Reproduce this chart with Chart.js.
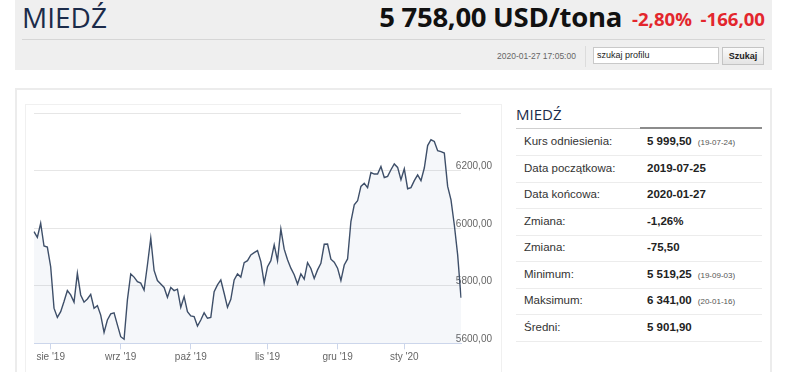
<!DOCTYPE html>
<html>
<head>
<meta charset="utf-8">
<script src="https://cdn.jsdelivr.net/npm/chart.js@4/dist/chart.umd.min.js"></script>
<style>
  html, body { margin: 0; padding: 0; background: #fff; width: 786px; height: 372px; overflow: hidden; }
  body { position: relative; font-family: "Liberation Sans", Arial, sans-serif; }
  .abs { position: absolute; white-space: nowrap; }
  #hdr { left: 15px; top: 0; width: 757px; height: 70px; background: #efefef; }
  #title { left: 22px; top: 0px; font: 28px/34px "Open Sans", sans-serif; color: #1b2b4a; }
  #price { right: 164px; top: 0px; font: bold 27.5px/34px "Open Sans", sans-serif; color: #111; letter-spacing: -0.3px; }
  .red { font: bold 18.6px/34px "Open Sans", sans-serif; color: #e3262d; top: 2px; }
  #sep { left: 22px; top: 39px; width: 743px; height: 1px; background: #d6d6d6; }
  #stamp { left: 497px; top: 50px; font-size: 8.5px; line-height: 12px; color: #666; }
  #vsep { left: 585px; top: 46px; width: 1px; height: 21px; background: #dcdcdc; }
  #search { left: 593px; top: 47px; background: #fff; border: 1px solid #c9c9c9; font-size: 9px; line-height: 15px; color: #222; padding-left: 3px; box-sizing: border-box; width: 126px; height: 17px; }
  #btn { left: 722px; top: 47px; width: 42px; height: 18px; border: 1px solid #c4c4c4; box-sizing: border-box; background: linear-gradient(#fafafa, #e4e4e4); font: bold 9px/16px "Liberation Sans", Arial, sans-serif; text-align: center; color: #222; }
  #panel { left: 15px; top: 88px; width: 757px; height: 300px; border: 2px solid #ececec; box-sizing: border-box; }
  #chartbox { left: 25px; top: 104px; width: 477px; height: 290px; border: 1px solid #f0f0f0; box-sizing: border-box; }
  #chartwrap { left: 25px; top: 105px; width: 477px; height: 265px; }
  #rtitle { left: 516px; top: 104px; font: 15px/20px "Open Sans", sans-serif; color: #1b2b4a; }
  #rline1 { left: 516px; top: 128px; width: 124px; height: 1px; background: #cfcfcf; }
  #rline2 { left: 640px; top: 127px; width: 122px; height: 2px; background: #8c8c8c; }
  .lab { left: 524px; font-size: 11.5px; line-height: 14px; color: #333; }
  .val { left: 647px; font-size: 11.5px; line-height: 14px; color: #222; font-weight: bold; }
  .val small { font-weight: normal; font-size: 8px; color: #555; margin-left: 6px; }
  .rsep { left: 516px; width: 246px; height: 1px; background: #ececec; }
</style>
</head>
<body>
<div id="hdr" class="abs"></div>
<div id="title" class="abs">MIEDŹ</div>
<div id="price" class="abs">5 758,00 USD/tona</div>
<div class="abs red" style="left:632px">-2,80%</div>
<div class="abs red" style="right:21px">-166,00</div>
<div id="sep" class="abs"></div>
<div id="stamp" class="abs">2020-01-27 17:05:00</div>
<div id="vsep" class="abs"></div>
<div id="search" class="abs">szukaj profilu</div>
<div id="btn" class="abs">Szukaj</div>

<div id="panel" class="abs"></div>
<div id="chartbox" class="abs"></div>
<div id="chartwrap" class="abs"><canvas id="c" width="477" height="265"></canvas></div>

<div id="rtitle" class="abs">MIEDŹ</div>
<div id="rline1" class="abs"></div>
<div id="rline2" class="abs"></div>
<div id="rows"></div>

<script>
// ---- data ----
const dates = [
  "2019-07-25","2019-07-26","2019-07-29","2019-07-30","2019-07-31",
  "2019-08-01","2019-08-02","2019-08-05","2019-08-06","2019-08-07","2019-08-08","2019-08-09",
  "2019-08-12","2019-08-13","2019-08-14","2019-08-15","2019-08-16","2019-08-19","2019-08-20",
  "2019-08-21","2019-08-22","2019-08-23","2019-08-27","2019-08-28","2019-08-29","2019-08-30",
  "2019-09-02","2019-09-03","2019-09-04","2019-09-05","2019-09-06","2019-09-09","2019-09-10",
  "2019-09-11","2019-09-12","2019-09-13","2019-09-16","2019-09-17","2019-09-18","2019-09-19",
  "2019-09-20","2019-09-23","2019-09-24","2019-09-25","2019-09-26","2019-09-27","2019-09-30",
  "2019-10-01","2019-10-02","2019-10-03","2019-10-04","2019-10-07","2019-10-08","2019-10-09",
  "2019-10-10","2019-10-11","2019-10-14","2019-10-15","2019-10-16","2019-10-17","2019-10-18",
  "2019-10-21","2019-10-22","2019-10-23","2019-10-24","2019-10-25","2019-10-28","2019-10-29",
  "2019-10-30","2019-10-31",
  "2019-11-01","2019-11-04","2019-11-05","2019-11-06","2019-11-07","2019-11-08","2019-11-11",
  "2019-11-12","2019-11-13","2019-11-14","2019-11-15","2019-11-18","2019-11-19","2019-11-20",
  "2019-11-21","2019-11-22","2019-11-25","2019-11-26","2019-11-27","2019-11-28","2019-11-29",
  "2019-12-02","2019-12-03","2019-12-04","2019-12-05","2019-12-06","2019-12-09","2019-12-10",
  "2019-12-11","2019-12-12","2019-12-13","2019-12-16","2019-12-17","2019-12-18","2019-12-19",
  "2019-12-20","2019-12-23","2019-12-24","2019-12-27","2019-12-30","2019-12-31",
  "2020-01-02","2020-01-03","2020-01-06","2020-01-07","2020-01-08","2020-01-09","2020-01-10",
  "2020-01-13","2020-01-14","2020-01-15","2020-01-16","2020-01-17","2020-01-20","2020-01-21",
  "2020-01-22","2020-01-23","2020-01-24","2020-01-27"
];
const prices = [
  5988,5968,6017,5938,5934,
  5866,5722,5690,5710,5745,5783,5768,5743,5843,5768,5743,5754,5770,5722,5731,5698,5638,5681,5702,5706,5664,
  5623,5614,5751,5841,5830,5814,5809,5785,5872,5965,5853,5818,5806,5794,5760,5794,5783,5788,5725,5762,5710,
  5695,5693,5660,5681,5706,5687,5690,5779,5803,5820,5774,5725,5753,5820,5841,5830,5880,5887,5907,5915,5922,5884,5809,
  5866,5887,5942,5887,5997,5927,5890,5861,5838,5806,5841,5823,5880,5860,5825,5855,5878,5944,5945,5892,5882,
  5861,5818,5872,5893,6023,6081,6095,6145,6156,6141,6193,6188,6188,6214,6176,6180,6203,6223,6211,6168,
  6206,6137,6141,6165,6185,6165,6209,6287,6307,6301,6269,6266,6261,6145,6098,6011,5907,5758
];
const monthNames = ["sty","lut","mar","kwi","maj","cze","lip","sie","wrz","paź","lis","gru"];
const yMin = 5600, yMax = 6400, yStep = 200;
const yLabelValues = [5600, 5800, 6000, 6200];

const tableLabels = ["Kurs odniesienia:","Data początkowa:","Data końcowa:","Zmiana:","Zmiana:","Minimum:","Maksimum:","Średni:"];
const tableValues = ["5 999,50","2019-07-25","2020-01-27","-1,26%","-75,50","5 519,25","6 341,00","5 901,90"];
const tableNotes  = ["(19-07-24)","","","","","(19-09-03)","(20-01-16)",""];

// ---- table ----
(function(){
  const rows = document.getElementById('rows');
  const rowTop = 134, rowH = 26.5;
  tableLabels.forEach((l, i) => {
    const y = rowTop + i * rowH;
    const a = document.createElement('div'); a.className = 'abs lab'; a.style.top = y + 'px'; a.textContent = l; rows.appendChild(a);
    const b = document.createElement('div'); b.className = 'abs val'; b.style.top = y + 'px';
    b.textContent = tableValues[i];
    if (tableNotes[i]) { const s = document.createElement('small'); s.textContent = tableNotes[i]; b.appendChild(s); }
    rows.appendChild(b);
    const sp = document.createElement('div'); sp.className = 'abs rsep'; sp.style.top = (y + 21) + 'px'; rows.appendChild(sp);
  });
})();

// ---- chart ----
function monthStartIdx() {
  const out = [];
  for (let i = 1; i < dates.length; i++) {
    if (dates[i].slice(5, 7) !== dates[i - 1].slice(5, 7)) out.push(i);
  }
  return out;
}
const fmt = v => v.toFixed(2).replace('.', ',');

new Chart(document.getElementById('c'), {
  type: 'line',
  data: {
    labels: dates,
    datasets: [{
      data: prices,
      borderColor: '#3e4f69',
      borderWidth: 1.4,
      backgroundColor: 'rgba(50,90,150,0.05)',
      fill: 'start',
      pointRadius: 0,
      tension: 0
    }]
  },
  options: {
    responsive: false,
    animation: false,
    devicePixelRatio: 1,
    layout: { padding: { left: 9, top: 8, right: 0, bottom: 0 } },
    plugins: { legend: { display: false }, tooltip: { enabled: false } },
    scales: {
      x: {
        type: 'category',
        offset: false,
        afterBuildTicks: s => { s.ticks = monthStartIdx().map(i => ({ value: i })); },
        afterFit: s => { s.height = 26.7; },
        grid: { drawOnChartArea: false, drawTicks: true, tickLength: 6, color: '#ccd6eb' },
        border: { display: true, color: '#ccd6eb' },
        ticks: {
          autoSkip: false, maxRotation: 0, minRotation: 0, padding: 2,
          color: '#666', font: { family: 'Liberation Sans', size: 10 },
          callback: function(v) {
            const d = dates[v];
            return monthNames[parseInt(d.slice(5, 7), 10) - 1] + " '" + d.slice(2, 4);
          }
        }
      },
      y: {
        position: 'right',
        min: yMin, max: yMax,
        afterFit: s => { s.width = 41; s.paddingTop = 0; s.paddingBottom = 0; },
        grid: { color: '#e6e6e6', drawTicks: false },
        border: { display: false },
        ticks: {
          stepSize: yStep, mirror: true, crossAlign: 'near', padding: 31, labelOffset: -4,
          color: '#666', font: { family: 'Liberation Sans', size: 10 },
          callback: v => yLabelValues.includes(v) ? fmt(v) : ''
        }
      }
    }
  }
});
</script>
</body>
</html>
